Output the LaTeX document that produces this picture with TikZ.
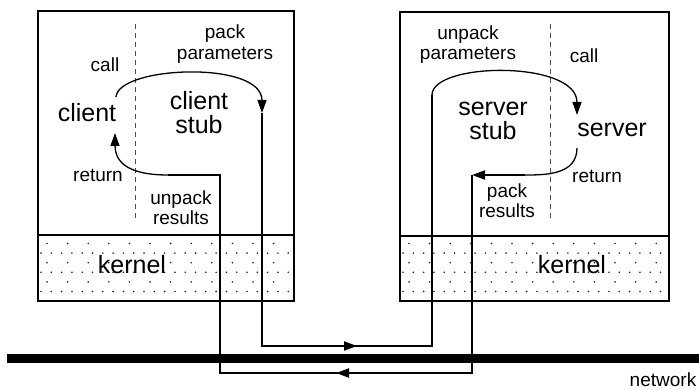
\documentclass[tikz,border=0pt]{standalone}
\usepackage{fontspec}
\setmainfont{Liberation Sans}
\usetikzlibrary{arrows.meta}
\tikzset{
  hostbox/.style={draw, line width=2.2pt, inner sep=0pt, anchor=north west},
  big/.style={font=\fontsize{25}{24.5}\selectfont, inner sep=0pt, anchor=base, align=center},
  small/.style={font=\fontsize{19}{20.5}\selectfont, inner sep=0pt, anchor=base, align=center},
  wire/.style={line width=2pt},
  curve/.style={line width=1.3pt},
  tip/.style={-{Triangle[length=13pt,width=9pt]}},
  divider/.style={dash pattern=on 5pt off 4pt, line width=1pt, black!70},
  grain/.style={fill=black!85},
}
\begin{document}
\begin{tikzpicture}[x=1pt,y=-1pt]
\useasboundingbox (0,0) rectangle (699,390);

% dotted kernel areas
\foreach \xa/\xb in {37/293, 399/668}{
  \begin{scope}
    \clip (\xa,234) rectangle (\xb,300);
    \foreach \y in {243.5,262.7,281.9}
      \foreach \k in {0,...,13}
        \fill[grain] (\xa+10+20.6*\k,\y) circle (0.9pt);
    \foreach \y in {253.1,272.3,291.5}
      \foreach \k in {0,...,26}
        \fill[grain] (\xa+4+10.3*\k,\y) circle (0.9pt);
  \end{scope}
}

% hosts
\node[hostbox, minimum width=256pt, minimum height=224pt] (chost) at (37,10) {};
\node[hostbox, minimum width=256pt, minimum height=66pt] (ckernel) at (37,234) {};
\node[hostbox, minimum width=269pt, minimum height=224pt] (shost) at (399,11) {};
\node[hostbox, minimum width=269pt, minimum height=65pt] (skernel) at (399,235) {};

% user / stub dividers
\draw[divider] (135,24) -- (135,220);
\draw[divider] (550,24) -- (550,220);

% network
\coordinate (netL) at (7,358);
\coordinate (netR) at (699,358);
\draw[line width=9pt] (netL) -- (netR);
\node[small] (network) at (663,386.5) {network};

% labels, client side (base = last line)
\node[big] (client) at (87,122) {client};
\node[big] (cstub) at (199,134) {client\\stub};
\node[small] (ccall) at (105,72) {call};
\node[small] (cpack) at (225,59.5) {pack\\parameters};
\node[small] (cret) at (98,182) {return};
\node[small] (cunpack) at (181,225) {unpack\\results};
\node[big] (ckern) at (132,273) {kernel};

% labels, server side
\node[big] (sstub) at (493,140) {server\\stub};
\node[big] (server) at (612,137) {server};
\node[small] (scall) at (584,63) {call};
\node[small] (sunpack) at (468,60) {unpack\\parameters};
\node[small] (sret) at (597,183) {return};
\node[small] (spack) at (507,218) {pack\\results};
\node[big] (skern) at (572,273) {kernel};

% request path
\coordinate (r0) at (116,97);
\coordinate (r1) at (262,113);
\coordinate (r2) at (262,346);
\coordinate (r3) at (432,346);
\coordinate (r4) at (432,95);
\coordinate (r5) at (577,115);
\coordinate (rm0) at (340,346);
\coordinate (rm1) at (357,346);
\draw[curve, tip] (r0) .. controls (118,66) and (262,60) .. (r1);
\draw[wire] (r1) -- (r2) -- (r3) -- (r4);
\draw[wire, tip] (rm0) -- (rm1);
\draw[curve, tip] (r4) .. controls (432,62) and (577,60) .. (r5);

% reply path
\coordinate (a0) at (577,148);
\coordinate (a1) at (525,175);
\coordinate (a2) at (472,175);
\coordinate (a3) at (472,373);
\coordinate (a4) at (220,373);
\coordinate (a5) at (220,175);
\coordinate (a6) at (168,175);
\coordinate (a7) at (115,133);
\coordinate (am0) at (353,373);
\coordinate (am1) at (336,373);
\draw[curve] (a0) .. controls (577,175) and (545,175) .. (a1);
\draw[wire, tip] (a1) -- (a2);
\draw[wire] (a2) -- (a3) -- (a4) -- (a5) -- (a6);
\draw[wire, tip] (am0) -- (am1);
\draw[curve, tip] (a6) .. controls (125,175) and (115,160) .. (a7);
\end{tikzpicture}
\end{document}
